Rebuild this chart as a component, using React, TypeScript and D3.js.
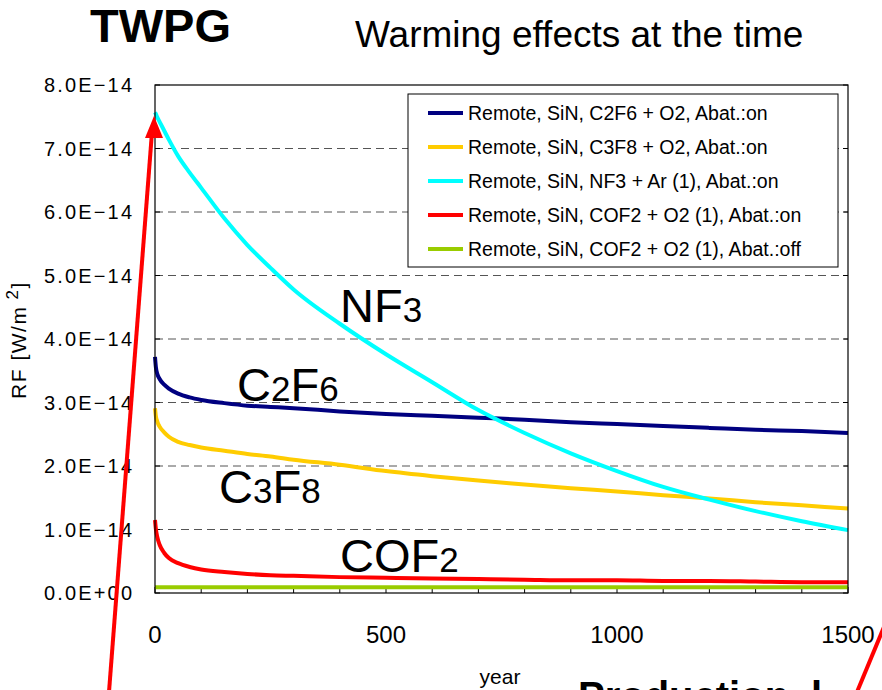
import React from "react";
import * as d3 from "d3";

const years = [0, 2, 5, 10, 20, 30, 50, 75, 100, 150, 200, 250, 300, 400, 500, 600, 700, 800, 900, 1000, 1100, 1200, 1300, 1400, 1500];
const c2f6 = [3.72, 3.55, 3.45, 3.37, 3.28, 3.22, 3.14, 3.08, 3.04, 2.99, 2.95, 2.93, 2.91, 2.86, 2.82, 2.79, 2.76, 2.73, 2.69, 2.66, 2.63, 2.6, 2.57, 2.55, 2.52];
const c3f8 = [2.91, 2.78, 2.7, 2.62, 2.53, 2.46, 2.38, 2.33, 2.29, 2.24, 2.19, 2.15, 2.1, 2.02, 1.92, 1.84, 1.77, 1.71, 1.65, 1.6, 1.54, 1.49, 1.43, 1.38, 1.33];
const nf3 = [7.57, 7.54, 7.49, 7.42, 7.28, 7.14, 6.88, 6.62, 6.38, 5.9, 5.48, 5.12, 4.78, 4.24, 3.76, 3.32, 2.88, 2.52, 2.2, 1.92, 1.67, 1.47, 1.29, 1.13, 0.99];
const cof2On = [1.15, 1.0, 0.88, 0.76, 0.63, 0.55, 0.47, 0.41, 0.37, 0.33, 0.3, 0.28, 0.27, 0.25, 0.24, 0.23, 0.22, 0.21, 0.2, 0.2, 0.19, 0.19, 0.18, 0.17, 0.17];
const cof2Off = [0.09, 0.09, 0.09, 0.09, 0.09, 0.09, 0.09, 0.09, 0.09, 0.09, 0.09, 0.09, 0.09, 0.09, 0.09, 0.09, 0.09, 0.09, 0.09, 0.09, 0.09, 0.09, 0.09, 0.09, 0.09];

const legendLabels = [
  "Remote, SiN, C2F6 + O2, Abat.:on",
  "Remote, SiN, C3F8 + O2, Abat.:on",
  "Remote, SiN, NF3 + Ar (1), Abat.:on",
  "Remote, SiN, COF2 + O2 (1), Abat.:on",
  "Remote, SiN, COF2 + O2 (1), Abat.:off",
];
const colors = ["#000080", "#FFCC00", "#00FFFF", "#FF0000", "#99CC00"];
const seriesValues = [c2f6, c3f8, nf3, cof2On, cof2Off];
const drawOrder = [0, 1, 4, 3, 2];

const yTicks = [0, 1, 2, 3, 4, 5, 6, 7, 8];
const yTickLabels = ["0.0E+00", "1.0E\u221214", "2.0E\u221214", "3.0E\u221214", "4.0E\u221214", "5.0E\u221214", "6.0E\u221214", "7.0E\u221214", "8.0E\u221214"];
const xTicks = [0, 500, 1000, 1500];
const xMinor = d3.range(0, 1501, 100);

const FONT = "'Liberation Sans', Arial, sans-serif";

export default function App() {
  const W = 882, H = 690;
  const x = d3.scaleLinear().domain([0, 1500]).range([155, 848]);
  const y = d3.scaleLinear().domain([0, 8]).range([593, 85]);
  const line = d3
    .line<number>()
    .x((_, i) => x(years[i]))
    .y((v) => y(v))
    .curve(d3.curveMonotoneX);

  return (
    <svg width={W} height={H} style={{ position: "absolute", left: 0, top: 0, background: "#fff" }} fontFamily={FONT}>
      <rect x={0} y={0} width={W} height={H} fill="#fff" />
      {/* titles */}
      <text x={90} y={42} fontSize={47} fontWeight="bold" fill="#000">TWPG</text>
      <text x={355} y={47} fontSize={37} fill="#000">Warming effects at the time</text>

      {/* gridlines */}
      {yTicks.slice(1, 8).map((t) => (
        <line key={"g" + t} x1={x(0)} x2={x(1500)} y1={y(t)} y2={y(t)} stroke="#555" strokeWidth={1} strokeDasharray="8,5" />
      ))}
      {/* ticks left & right */}
      {yTicks.map((t) => (
        <g key={"yt" + t}>
          <line x1={x(0)} x2={x(0) + 5} y1={y(t)} y2={y(t)} stroke="#000" />
          <line x1={x(1500) - 5} x2={x(1500)} y1={y(t)} y2={y(t)} stroke="#000" />
          <text x={132} y={y(t) + 7} fontSize={20} textAnchor="end" textLength={88} lengthAdjust="spacing" fill="#000">
            {yTickLabels[t]}
          </text>
        </g>
      ))}
      {xMinor.map((t) => (
        <line key={"xm" + t} x1={x(t)} x2={x(t)} y1={y(0)} y2={y(0) - 6} stroke="#000" />
      ))}
      {xTicks.map((t) => (
        <text key={"xl" + t} x={x(t)} y={643} fontSize={24} textAnchor="middle" fill="#000">{t}</text>
      ))}
      <text x={500} y={684} fontSize={21} textAnchor="middle" fill="#000">year</text>
      <text transform="translate(26,340) rotate(-90)" fontSize={21} letterSpacing={1.5} textAnchor="middle" fill="#000">
        RF [W/m<tspan dy={-8} fontSize={17}> 2</tspan><tspan dy={8}>]</tspan>
      </text>

      {/* series */}
      {drawOrder.map((i) => (
        <path key={"s" + i} d={line(seriesValues[i]) || ""} fill="none" stroke={colors[i]} strokeWidth={4} />
      ))}

      {/* frame */}
      <rect x={x(0)} y={y(8)} width={x(1500) - x(0)} height={y(0) - y(8)} fill="none" stroke="#000" strokeWidth={1.2} />

      {/* legend */}
      <rect x={408} y={94} width={430} height={173} fill="#fff" stroke="#000" strokeWidth={1} />
      {legendLabels.map((l, i) => (
        <g key={"lg" + i}>
          <line x1={428} x2={463} y1={113 + i * 34} y2={113 + i * 34} stroke={colors[i]} strokeWidth={4} />
          <text x={468} y={113 + i * 34 + 7} fontSize={19.5} fill="#000">{l}</text>
        </g>
      ))}

      {/* chemical labels */}
      <text x={340} y={322} fontSize={47} fill="#000">NF<tspan fontSize={35}>3</tspan></text>
      <text x={237} y={401} fontSize={47} fill="#000">C<tspan fontSize={35}>2</tspan>F<tspan fontSize={35}>6</tspan></text>
      <text x={219} y={503} fontSize={47} fill="#000">C<tspan fontSize={35}>3</tspan>F<tspan fontSize={35}>8</tspan></text>
      <text x={340} y={572} fontSize={47} fill="#000">COF<tspan fontSize={35}>2</tspan></text>

      {/* annotation */}
      <text x={578} y={710} fontSize={40} fontWeight="bold" fill="#000">Production<tspan dx={22}>l</tspan></text>
      <line x1={109} y1={692} x2={152} y2={132} stroke="#FF0000" strokeWidth={4} />
      <polygon points="154,116 145,138 163,138" fill="#FF0000" />
      <line x1={857} y1={692} x2={886} y2={622} stroke="#FF0000" strokeWidth={4} />
    </svg>
  );
}
